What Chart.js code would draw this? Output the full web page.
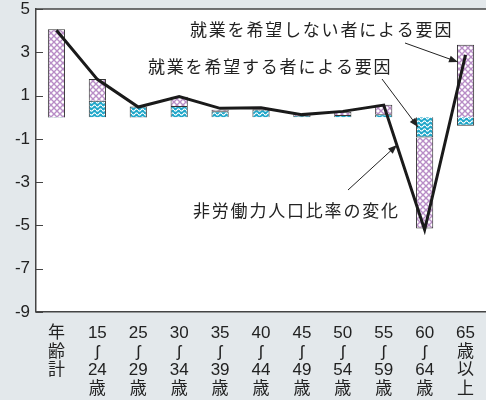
<!DOCTYPE html>
<html>
<head>
<meta charset="utf-8">
<script src="https://cdn.jsdelivr.net/npm/chart.js@4.4.0/dist/chart.umd.min.js"></script>
<style>
  html, body { margin: 0; padding: 0; background: #e3e8eb; }
  #wrap { width: 486px; height: 400px; position: relative; }
</style>
</head>
<body>
<div id="wrap"><canvas id="chart"></canvas></div>
<script>
// age groups (vertical labels)
const ageLabels = [
    ['年', '齢', '計'],
    ['15', 'ʃ', '24', '歳'],
    ['25', 'ʃ', '29', '歳'],
    ['30', 'ʃ', '34', '歳'],
    ['35', 'ʃ', '39', '歳'],
    ['40', 'ʃ', '44', '歳'],
    ['45', 'ʃ', '49', '歳'],
    ['50', 'ʃ', '54', '歳'],
    ['55', 'ʃ', '59', '歳'],
    ['60', 'ʃ', '64', '歳'],
    ['65', '歳', '以', '上'],
];
// 就業を希望する者による要因
const wantWork = [-0.02, 0.76, 0.49, 0.52, 0.28, 0.36, 0.06, 0.1, 0.14, -0.94, -0.4];
// 就業を希望しない者による要因
const noWantWork = [4.07, 1.0, -0.02, 0.43, 0.06, 0.02, 0.08, 0.15, 0.44, -4.2, 3.35];
// 非労働力人口比率の変化
const ratioChange = [4.02, 1.75, 0.47, 0.95, 0.41, 0.44, 0.12, 0.27, 0.56, -5.2, 2.88];
const yTicks = [-9, -7, -5, -3, -1, 1, 3, 5];

const FONT = '"Liberation Sans", "DejaVu Sans", "Noto Sans CJK JP", sans-serif';
const JP_FONT = '"Noto Sans CJK JP", sans-serif';

const makePattern = (w, h, draw) => {
    const c = document.createElement('canvas');
    c.width = w;
    c.height = h;
    draw(c.getContext('2d'));
    return c.getContext('2d').createPattern(c, 'repeat');
};

const crossPattern = makePattern(6, 6, (g) => {
    g.fillStyle = '#ffffff';
    g.fillRect(0, 0, 6, 6);
    g.strokeStyle = '#b88dc6';
    g.lineWidth = 1.4;
    g.beginPath();
    g.moveTo(0, 0); g.lineTo(6, 6);
    g.moveTo(6, 0); g.lineTo(0, 6);
    g.stroke();
});

const wavePattern = makePattern(6, 4, (g) => {
    g.fillStyle = '#1ea6c9';
    g.fillRect(0, 0, 6, 4);
    g.strokeStyle = '#ffffff';
    g.lineWidth = 1.1;
    g.beginPath();
    for (let x = 0; x <= 6; x += 0.5) {
        const y = 2 + 1.1 * Math.sin((x / 6) * Math.PI * 2);
        if (x === 0) g.moveTo(x, y); else g.lineTo(x, y);
    }
    g.stroke();
});

const decorPlugin = {
    id: 'decor',
    beforeDraw(chart) {
        const { ctx, chartArea: a } = chart;
        ctx.save();
        ctx.fillStyle = '#ffffff';
        ctx.fillRect(a.left, a.top, a.right - a.left, a.bottom - a.top);
        ctx.restore();
    },
    afterDatasetsDraw(chart) {
        const { ctx, chartArea: a, scales } = chart;
        ctx.save();
        // top frame line
        ctx.strokeStyle = '#444';
        ctx.lineWidth = 1.5;
        ctx.beginPath();
        ctx.moveTo(a.left, a.top);
        ctx.lineTo(a.right, a.top);
        ctx.stroke();
        // inward ticks
        ctx.lineWidth = 1;
        yTicks.forEach((v) => {
            const y = Math.round(scales.y.getPixelForValue(v)) + 0.5;
            ctx.beginPath();
            ctx.moveTo(a.left, y);
            ctx.lineTo(a.left + 7, y);
            ctx.stroke();
        });

        // annotations
        ctx.fillStyle = '#222';
        ctx.font = '17px ' + JP_FONT;
        ctx.letterSpacing = '1.8px';
        ctx.textBaseline = 'middle';
        ctx.textAlign = 'left';
        ctx.fillText('就業を希望しない者による要因', 190, 30);
        ctx.fillText('就業を希望する者による要因', 148, 67);
        ctx.fillText('非労働力人口比率の変化', 193, 211);

        const arrow = (x1, y1, x2, y2) => {
            ctx.strokeStyle = '#222';
            ctx.fillStyle = '#222';
            ctx.lineWidth = 1;
            ctx.beginPath();
            ctx.moveTo(x1, y1);
            ctx.lineTo(x2, y2);
            ctx.stroke();
            const ang = Math.atan2(y2 - y1, x2 - x1);
            const len = 9, half = 3.5;
            ctx.beginPath();
            ctx.moveTo(x2, y2);
            ctx.lineTo(x2 - len * Math.cos(ang) + half * Math.sin(ang), y2 - len * Math.sin(ang) - half * Math.cos(ang));
            ctx.lineTo(x2 - len * Math.cos(ang) - half * Math.sin(ang), y2 - len * Math.sin(ang) + half * Math.cos(ang));
            ctx.closePath();
            ctx.fill();
        };
        arrow(405, 43, 458, 62);
        arrow(382, 79, 418, 127);
        arrow(348, 190, 397, 145);
        ctx.restore();
    },
};

new Chart(document.getElementById('chart'), {
    type: 'bar',
    data: {
        labels: ageLabels,
        datasets: [
            {
                type: 'line',
                label: '非労働力人口比率の変化',
                data: ratioChange,
                borderColor: '#1a1a1a',
                borderWidth: 3,
                pointRadius: 0,
                tension: 0,
                stack: 'line',
                order: 0,
            },
            {
                label: '就業を希望する者による要因',
                data: wantWork,
                backgroundColor: wavePattern,
                borderColor: '#333',
                borderWidth: 1,
                stack: 's',
                order: 1,
            },
            {
                label: '就業を希望しない者による要因',
                data: noWantWork,
                backgroundColor: crossPattern,
                borderColor: '#333',
                borderWidth: 1,
                stack: 's',
                order: 1,
            },
        ],
    },
    options: {
        responsive: true,
        maintainAspectRatio: false,
        animation: false,
        layout: { padding: { top: 0, right: 0, left: 0, bottom: 0 } },
        plugins: {
            legend: { display: false },
            tooltip: { enabled: false },
        },
        datasets: {
            bar: { barPercentage: 0.42, categoryPercentage: 1 },
        },
        scales: {
            x: {
                stacked: true,
                grid: { display: false },
                border: { color: '#444', width: 1.5 },
                ticks: {
                    color: '#222',
                    font: { family: FONT, size: 17, lineHeight: 1.1 },
                    maxRotation: 0,
                    autoSkip: false,
                    padding: 4,
                },
                afterFit: (s) => { s.height = 88; s.paddingLeft = 0; s.paddingRight = 0; },
            },
            y: {
                stacked: true,
                min: -9,
                max: 5,
                afterBuildTicks: (s) => { s.ticks = yTicks.map((v) => ({ value: v })); },
                grid: {
                    drawTicks: false,
                    color: (c) => (c.tick && c.tick.value === 0 ? '#8a8a8a' : 'rgba(0,0,0,0)'),
                    lineWidth: 1.2,
                },
                border: { color: '#444', width: 1.5 },
                ticks: {
                    color: '#222',
                    font: { family: FONT, size: 17 },
                    padding: 6,
                },
                afterFit: (s) => { s.width = 36; s.paddingTop = 9; s.paddingBottom = 0; },
            },
        },
    },
    plugins: [decorPlugin],
});
</script>
</body>
</html>
